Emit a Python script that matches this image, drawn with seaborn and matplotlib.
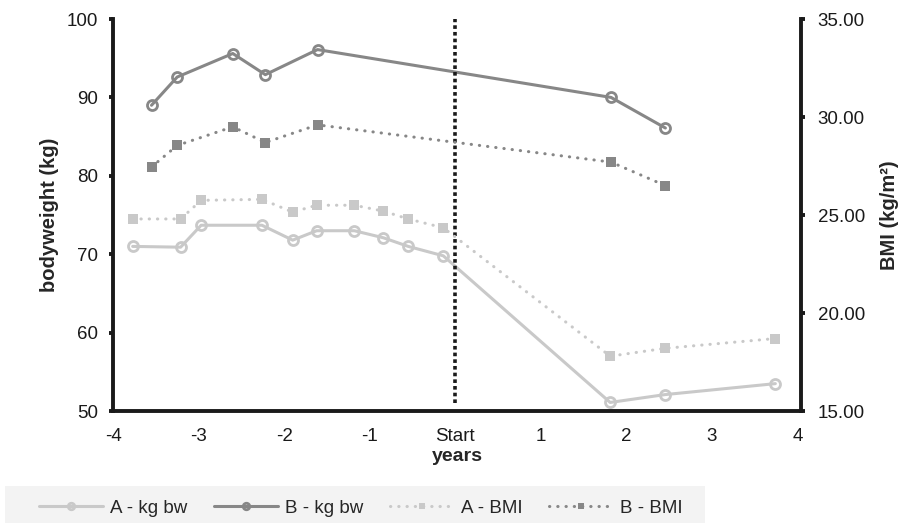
import numpy as np
import pandas as pd
import matplotlib
matplotlib.use('Agg')
import matplotlib.pyplot as plt
from matplotlib.patches import Rectangle
import seaborn as sns

# data
x_a = [-3.77, -3.21, -2.97, -2.26, -1.90, -1.62, -1.18, -0.84, -0.55, -0.14, 1.81, 2.45, 3.74]
kg_a = [71.0, 70.9, 73.7, 73.7, 71.8, 73.0, 73.0, 72.1, 71.0, 69.8, 51.1, 52.1, 53.5]
bmi_a = [24.8, 24.8, 25.75, 25.8, 25.15, 25.5, 25.5, 25.2, 24.8, 24.35, 17.8, 18.2, 18.7]

x_b = [-3.55, -3.25, -2.60, -2.22, -1.61, 1.82, 2.455]
kg_b = [89.0, 92.6, 95.6, 92.9, 96.1, 90.0, 86.1]
bmi_b = [27.45, 28.55, 29.5, 28.7, 29.6, 27.7, 26.5]

x_ticks = [-4, -3, -2, -1, 0, 1, 2, 3, 4]
x_ticklabels = ['-4', '-3', '-2', '-1', 'Start', '1', '2', '3', '4']
kg_ticks = [50, 60, 70, 80, 90, 100]
bmi_ticks = [15, 20, 25, 30, 35]

light = '#c9c9c9'
dark = '#878787'
black = '#1a1a1a'

sns.set_style('white')
plt.rcParams['font.family'] = ['Liberation Sans', 'DejaVu Sans']
plt.rcParams['font.size'] = 13.5

fig = plt.figure(figsize=(8.99, 5.25), dpi=100)
ax = fig.add_axes([0.1257, 0.217, 0.7653, 0.7468])
ax2 = ax.twinx()

dotted = (0, (0.1, 2.6))

sns.lineplot(x=x_a, y=kg_a, ax=ax, color=light, linewidth=2.2, marker='o',
             markersize=7.2, markerfacecolor='none', markeredgecolor=light,
             markeredgewidth=2.0, label='A - kg bw', legend=False)
sns.lineplot(x=x_b, y=kg_b, ax=ax, color=dark, linewidth=2.2, marker='o',
             markersize=7.2, markerfacecolor='none', markeredgecolor=dark,
             markeredgewidth=2.0, label='B - kg bw', legend=False)
sns.lineplot(x=x_a, y=bmi_a, ax=ax2, color=light, linewidth=2.2, linestyle=dotted,
             dash_capstyle='round', marker='s', markersize=7.6, markeredgewidth=0,
             label='A - BMI', legend=False)
sns.lineplot(x=x_b, y=bmi_b, ax=ax2, color=dark, linewidth=2.2, linestyle=dotted,
             dash_capstyle='round', marker='s', markersize=7.6, markeredgewidth=0,
             label='B - BMI', legend=False)

# start marker
ax.axvline(0, ymin=0.02, ymax=1, color=black, linewidth=2.6, linestyle=(0, (1, 0.85)))

ax.set_xlim(-4, 4.04)
ax.set_ylim(50, 100)
ax2.set_ylim(15, 35)
ax.set_xticks(x_ticks)
ax.set_xticklabels(x_ticklabels)
ax.set_yticks(kg_ticks)
ax2.set_yticks(bmi_ticks)
ax2.set_yticklabels([f'{v:.2f}' for v in bmi_ticks])

ax.set_xlabel('years', fontweight='bold', fontsize=14, labelpad=2)
ax.set_ylabel('bodyweight (kg)', fontweight='bold', fontsize=14.5, labelpad=5)
ax2.set_ylabel('BMI (kg/m²)', fontweight='bold', fontsize=14.5, labelpad=11)

for a in (ax, ax2):
    a.grid(False)
    a.spines['top'].set_visible(False)
    for s in a.spines.values():
        s.set_linewidth(2.8)
        s.set_color(black)
ax.spines['right'].set_visible(False)
ax2.spines['left'].set_visible(False)
ax2.spines['bottom'].set_visible(False)

ax.tick_params(axis='both', direction='out', length=3, width=2.8, color=black,
               labelcolor=black, labelsize=13.5)
ax.tick_params(axis='y', pad=8)
ax.tick_params(axis='x', pad=9)
ax2.tick_params(axis='y', direction='out', length=3, width=2.8, color=black,
                labelcolor=black, labelsize=13.5, pad=9)

# legend band at the bottom
fig.patches.append(Rectangle((5 / 899, 1 - 523 / 525), 700 / 899, 37 / 525,
                             transform=fig.transFigure, facecolor='#f3f3f3',
                             edgecolor='none', zorder=0))
h1, l1 = ax.get_legend_handles_labels()
h2, l2 = ax2.get_legend_handles_labels()
fig.legend(h1 + h2, l1 + l2, loc='center', bbox_to_anchor=(361 / 899, 1 - 508 / 525),
           ncol=4, frameon=False, fontsize=13.5, handlelength=3.4, handletextpad=0.4,
           columnspacing=1.4, markerscale=0.65)

fig.savefig('out.png', dpi=100)
